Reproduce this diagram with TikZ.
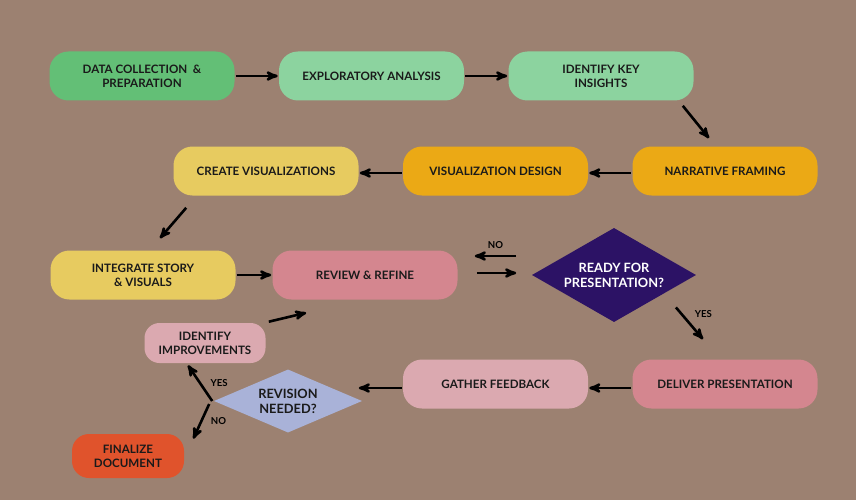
\documentclass[tikz,border=0pt]{standalone}
\usepackage{fontspec}
\setmainfont{Lato}
\usetikzlibrary{arrows,shapes.geometric}

\definecolor{bgbrown}{HTML}{9C8171}
\definecolor{greendark}{HTML}{63BF76}
\definecolor{greenlight}{HTML}{8CD39F}
\definecolor{orangebox}{HTML}{EBA915}
\definecolor{yellowbox}{HTML}{E7CB60}
\definecolor{pinkbox}{HTML}{D4868F}
\definecolor{pinklight}{HTML}{DBA9B0}
\definecolor{purplebox}{HTML}{2C1265}
\definecolor{lavender}{HTML}{A9B2D8}
\definecolor{redbox}{HTML}{E0532C}
\definecolor{textdark}{HTML}{1A1A1A}

\begin{document}
\begin{tikzpicture}[x=1pt,y=-1pt,->,>=stealth',line width=2.6pt,
                    node distance=229.5pt,
                    font=\bfseries\fontsize{11.6}{14}\selectfont]
  \tikzstyle{box}=[rectangle,rounded corners=19pt,minimum width=185pt,
                   minimum height=49pt,align=center,text=textdark,inner sep=2pt]
  \tikzstyle{decision}=[diamond,align=center,inner sep=0pt,text=textdark,
                        font=\bfseries\fontsize{12.8}{15}\selectfont]
  \tikzstyle{lbl}=[font=\bfseries\fontsize{9.6}{11}\selectfont,text=black]

  \fill[bgbrown] (0,0) rectangle (856,500);

  % top row
  \node[box,fill=greendark]  (A) at (142,76) {DATA COLLECTION \ \&\\PREPARATION};
  \node[box,fill=greenlight] (B) [right of=A] {EXPLORATORY ANALYSIS};
  \node[box,fill=greenlight] (C) [right of=B] {IDENTIFY KEY\\INSIGHTS};

  % second row
  \node[box,fill=orangebox]  (D) at (725,171) {NARRATIVE FRAMING};
  \node[box,fill=orangebox]  (E) [left of=D]  {VISUALIZATION DESIGN};
  \node[box,fill=yellowbox]  (F) [left of=E]  {CREATE VISUALIZATIONS};

  % third row
  \node[box,fill=yellowbox]  (G) at (143,275) {INTEGRATE STORY\\\& VISUALS};
  \node[box,fill=pinkbox]    (H) at (365,275) {REVIEW \& REFINE};
  \node[decision,fill=purplebox,text=white,aspect=1.74,minimum width=165pt,
        minimum height=95pt] (I) at (614,275) {READY FOR\\PRESENTATION?};

  % bottom rows
  \node[box,fill=pinkbox]    (J) at (725,384) {DELIVER PRESENTATION};
  \node[box,fill=pinklight]  (K) [left of=J]  {GATHER FEEDBACK};
  \node[decision,fill=lavender,aspect=2.33,minimum width=149pt,
        minimum height=64pt] (L) at (288,401) {REVISION\\NEEDED?};
  \node[box,fill=pinklight,minimum width=121pt,minimum height=40pt,
        rounded corners=15pt] (M) at (205,343) {IDENTIFY\\IMPROVEMENTS};
  \node[box,fill=redbox,minimum width=112pt,minimum height=44pt,
        rounded corners=17pt] (N) at (128,456) {FINALIZE\\DOCUMENT};

  \path (A) edge (B)
        (B) edge (C)
        ([yshift=-2pt]D.west) edge ([yshift=-2pt]E.east)
        ([yshift=-2pt]E.west) edge ([yshift=-2pt]F.east)
        (G) edge (H)
        ([yshift=-4pt]J.west) edge ([yshift=-4pt]K.east);

  \draw ([xshift=-12pt,yshift=-4pt]C.south east) -- ([xshift=-16pt,yshift=7pt]D.north);
  \draw ([xshift=14pt,yshift=-11pt]F.south west) -- ([xshift=17pt,yshift=11pt]G.north);

  % review loop
  \draw ([xshift=18pt,yshift=2pt]H.east) -- ([xshift=-14pt,yshift=2pt]I.west);
  \draw ([xshift=-14pt,yshift=19pt]I.west) -- node[lbl,above=3pt] {NO}
        ([xshift=16pt,yshift=19pt]H.east);
  \draw ([xshift=20pt,yshift=-8pt]I.south east) -- node[lbl,pos=0.2,right=9pt] {YES}
        ([xshift=-22pt,yshift=19pt]J.north);

  % feedback
  \draw ([yshift=-4pt]K.west) -- ([xshift=-5pt,yshift=13pt]L.east);
  \draw (L.west) -- node[lbl,right=6pt] {YES} ([xshift=-17pt,yshift=-1pt]M.south);
  \draw ([xshift=-3pt,yshift=-3pt]L.west) -- node[lbl,right=5pt] {NO}
        ([xshift=8pt,yshift=-6pt]N.north east);
  \draw ([xshift=2pt]M.north east) -- ([xshift=35pt,yshift=-12pt]H.south west);
\end{tikzpicture}
\end{document}
